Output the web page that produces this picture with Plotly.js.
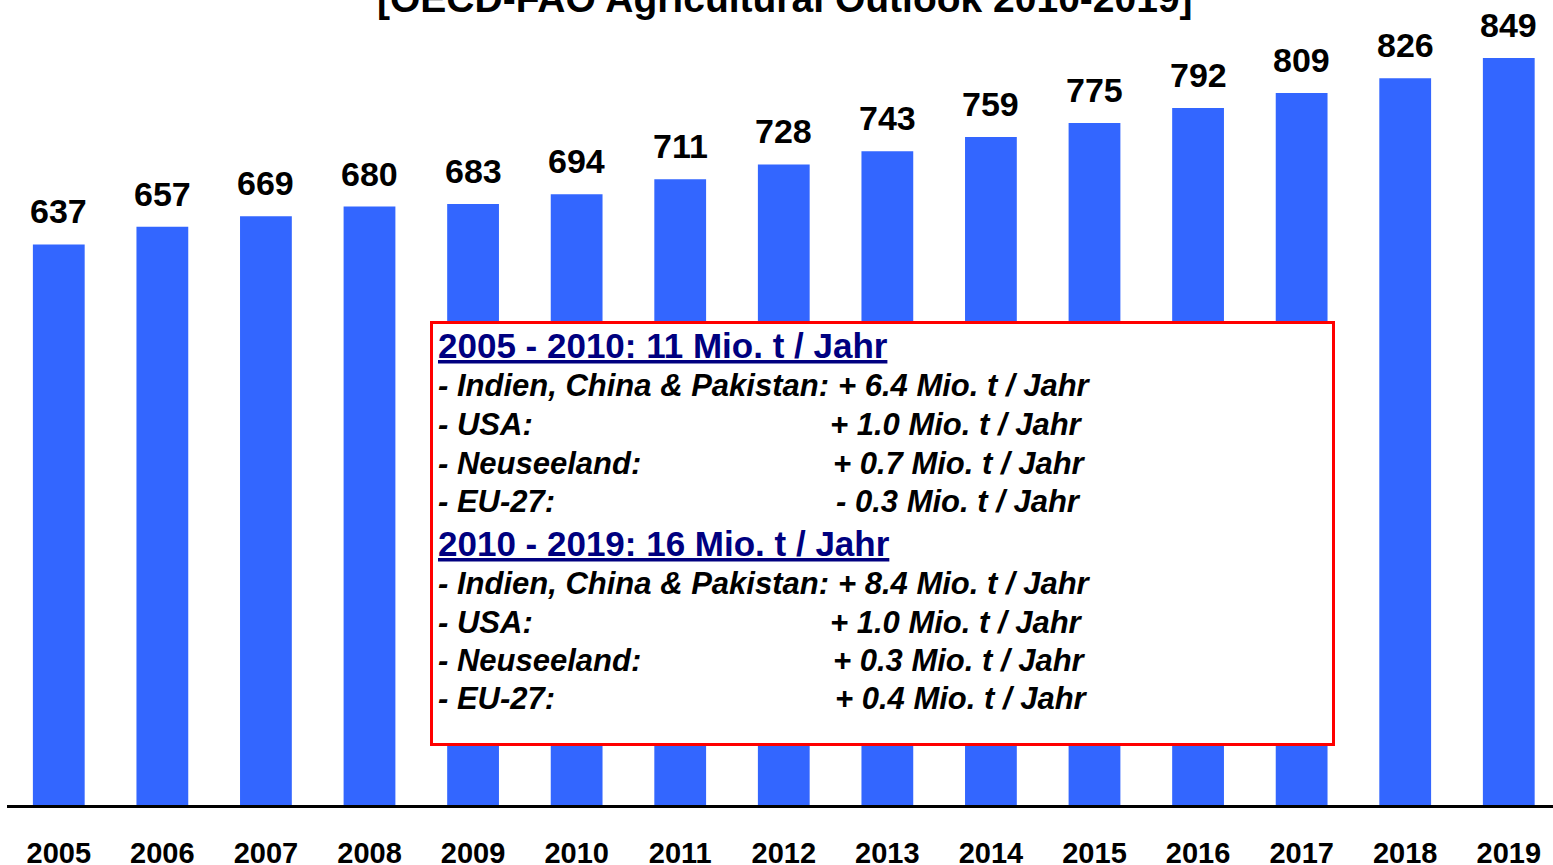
<!DOCTYPE html>
<html>
<head>
<meta charset="utf-8">
<script src="https://cdn.plot.ly/plotly-3.0.1.min.js"></script>
<style>html,body{margin:0;padding:0;background:#fff;}#chart{width:1553px;height:865px;}</style>
</head>
<body>
<div id="chart"></div>
<script>
// ---- data ----
var years = ['2005','2006','2007','2008','2009','2010','2011','2012','2013','2014','2015','2016','2017','2018','2019'];
var values = [637, 657, 669, 680, 683, 694, 711, 728, 743, 759, 775, 792, 809, 826, 849];
var chartTitle = '[OECD-FAO Agricultural Outlook 2010-2019]';
var heading1 = '2005 - 2010: 11 Mio. t / Jahr';
var heading2 = '2010 - 2019: 16 Mio. t / Jahr';
var rowLabels = ['- Indien, China & Pakistan:', '- USA:', '- Neuseeland:', '- EU-27:',
                 '- Indien, China & Pakistan:', '- USA:', '- Neuseeland:', '- EU-27:'];
var rowValues = ['+ 6.4 Mio. t / Jahr', '+ 1.0 Mio. t / Jahr', '+ 0.7 Mio. t / Jahr', '- 0.3 Mio. t / Jahr',
                 '+ 8.4 Mio. t / Jahr', '+ 1.0 Mio. t / Jahr', '+ 0.3 Mio. t / Jahr', '+ 0.4 Mio. t / Jahr'];

// ---- layout helpers (pixel -> paper) ----
var L = 7, W = 1546, H = 805;
function px(x){ return (x - L) / W; }
function py(y){ return 1 - y / H; }
var FONT = 'Arial, "Liberation Sans", sans-serif';

var rowY = [386, 424, 463, 501, 583, 622, 660, 698];
var valX = [838, 830, 833, 836, 838, 830, 833, 835];

var annotations = [];
// value labels above bars (x given as category index)
for (var i = 0; i < years.length; i++) {
  annotations.push({
    x: i, y: values[i], xref: 'x', yref: 'y',
    text: '<b>' + values[i] + '</b>', showarrow: false,
    yanchor: 'bottom', xanchor: 'center', yshift: 12,
    font: {family: FONT, size: 34, color: '#000'}
  });
}
// title (cut at top)
annotations.push({
  x: px(785), y: 1, xref: 'paper', yref: 'paper', text: '<b>' + chartTitle + '</b>',
  showarrow: false, xanchor: 'center', yanchor: 'middle', yshift: 2,
  font: {family: FONT, size: 39, color: '#000'}
});
// headings
[[heading1, 345], [heading2, 543]].forEach(function(h){
  annotations.push({
    x: px(436), y: py(h[1]), xref: 'paper', yref: 'paper',
    text: '<b><u>' + h[0] + '</u></b>', showarrow: false,
    xanchor: 'left', yanchor: 'middle',
    font: {family: FONT, size: 35, color: '#000080'}
  });
});
// rows
for (var r = 0; r < rowLabels.length; r++) {
  annotations.push({
    x: px(436), y: py(rowY[r]), xref: 'paper', yref: 'paper',
    text: '<b><i>' + rowLabels[r] + '</i></b>', showarrow: false,
    xanchor: 'left', yanchor: 'middle',
    font: {family: FONT, size: 31, color: '#000'}
  });
  annotations.push({
    x: px(valX[r] - 2), y: py(rowY[r]), xref: 'paper', yref: 'paper',
    text: '<b><i>' + rowValues[r] + '</i></b>', showarrow: false,
    xanchor: 'left', yanchor: 'middle',
    font: {family: FONT, size: 31, color: '#000'}
  });
}

var trace = {
  type: 'bar', x: years, y: values,
  marker: {color: '#3366FF', line: {width: 0}},
  hoverinfo: 'x+y'
};

var layout = {
  width: 1553, height: 865,
  margin: {l: L, r: 0, t: 0, b: 60, pad: 0},
  paper_bgcolor: '#fff', plot_bgcolor: '#fff',
  showlegend: false,
  bargap: 0.5,
  xaxis: {
    type: 'category', range: [-0.5, 14.427],
    showline: true, linecolor: '#000', linewidth: 3,
    showgrid: false, zeroline: false, ticks: '',
    ticklabelstandoff: 20,
    tickfont: {family: FONT, size: 29, color: '#000', weight: 'bold'}
  },
  yaxis: {
    range: [0, 914.8], visible: false, showgrid: false, zeroline: false
  },
  shapes: [{
    type: 'rect', xref: 'paper', yref: 'paper', layer: 'above',
    x0: px(431.5), x1: px(1333.5), y0: py(744.5), y1: py(322.5),
    line: {color: '#FF0000', width: 3}, fillcolor: '#FFFFFF'
  }],
  annotations: annotations
};

Plotly.newPlot('chart', [trace], layout, {displayModeBar: false, staticPlot: true});
</script>
</body>
</html>
